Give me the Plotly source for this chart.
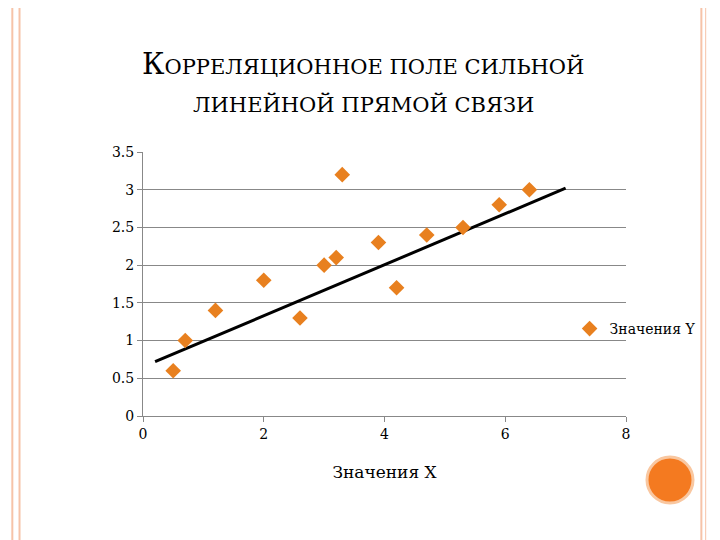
import plotly.graph_objects as go

# data
x_vals = [0.5, 0.7, 1.2, 2.0, 2.6, 3.0, 3.2, 3.3, 3.9, 4.2, 4.7, 5.3, 5.9, 6.4]
y_vals = [0.6, 1.0, 1.4, 1.8, 1.3, 2.0, 2.1, 3.2, 2.3, 1.7, 2.4, 2.5, 2.8, 3.0]
trend_x = [0.2, 7.0]
trend_y = [0.72, 3.02]

serif = "DejaVu Serif"

fig = go.Figure()
fig.add_trace(go.Scatter(
    x=trend_x, y=trend_y, mode="lines",
    line=dict(color="black", width=3), showlegend=False, hoverinfo="skip"))
fig.add_trace(go.Scatter(
    x=x_vals, y=y_vals, mode="markers", name="Значения Y",
    marker=dict(symbol="diamond", size=12, color="#e8801f")))

line1 = "<span style='font-size:29px'>К</span>ОРРЕЛЯЦИОННОЕ ПОЛЕ СИЛЬНОЙ"
line2 = "ЛИНЕЙНОЙ ПРЯМОЙ СВЯЗИ"

fig.update_layout(
    width=720, height=540,
    margin=dict(l=0, r=0, t=0, b=0),
    paper_bgcolor="white", plot_bgcolor="white",
    font=dict(family=serif, size=14, color="black"),
    showlegend=True,
    legend=dict(x=0.78, y=1 - 321 / 540, xanchor="left", yanchor="middle",
                yref="paper", itemwidth=30,
                font=dict(family=serif, size=14), bgcolor="rgba(0,0,0,0)"),
    xaxis=dict(domain=[135 / 720, 618 / 720], range=[0, 8], dtick=2,
               automargin=False,
               showgrid=False, zeroline=False, showline=True,
               linecolor="#888", ticks="outside", ticklen=5, tickcolor="#888",
               title=dict(text="Значения X", font=dict(size=17), standoff=25),
               tickfont=dict(size=14)),
    yaxis=dict(domain=[1 - 408 / 540, 1 - 144 / 540], range=[0, 3.5], dtick=0.5,
               automargin=False,
               showgrid=True, gridcolor="#888", zeroline=False, showline=True,
               linecolor="#888", ticks="outside", ticklen=5, tickcolor="#888",
               tickfont=dict(size=14)),
    annotations=[
        dict(text=line1, x=355 / 720, y=1 - 56 / 540, xref="paper", yref="paper",
             showarrow=False, xanchor="center", yanchor="middle",
             font=dict(family=serif, size=21)),
        dict(text=line2, x=355 / 720, y=1 - 96 / 540, xref="paper", yref="paper",
             showarrow=False, xanchor="center", yanchor="middle",
             font=dict(family=serif, size=21)),
    ],
    shapes=[
        dict(type="line", xref="paper", yref="paper", x0=0.006, x1=0.006, y0=0, y1=1,
             line=dict(color="#f6c3a8", width=2)),
        dict(type="line", xref="paper", yref="paper", x0=0.016, x1=0.016, y0=0, y1=1,
             line=dict(color="#f6c3a8", width=2)),
        dict(type="line", xref="paper", yref="paper", x0=0.963, x1=0.963, y0=0, y1=1,
             line=dict(color="#f6c3a8", width=2)),
        dict(type="line", xref="paper", yref="paper", x0=0.969, x1=0.969, y0=0, y1=1,
             line=dict(color="#f6c3a8", width=1)),
        dict(type="line", xref="paper", yref="paper", x0=0.982, x1=0.982, y0=0, y1=1,
             line=dict(color="#f6c3a8", width=2)),
        dict(type="line", xref="paper", yref="paper", x0=0.99, x1=0.99, y0=0, y1=1,
             line=dict(color="#f6c3a8", width=1)),
        dict(type="circle", xref="paper", yref="paper",
             x0=639 / 720, x1=685 / 720, y0=1 - 495 / 540, y1=1 - 449 / 540,
             fillcolor="#f47a20", line=dict(color="#f9c7a0", width=3)),
    ],
)

fig.write_html("out.html")
